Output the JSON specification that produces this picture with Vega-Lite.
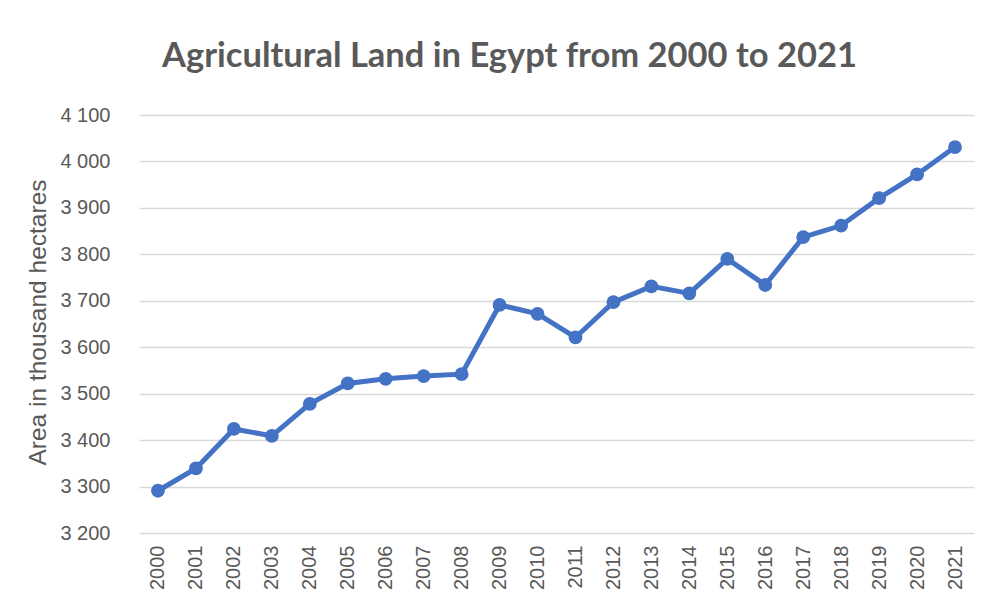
{
  "$schema": "https://vega.github.io/schema/vega-lite/v6.json",
  "autosize": {"type": "none"},
  "width": 835,
  "height": 418,
  "padding": {"left": 139, "top": 115, "right": 19, "bottom": 79},
  "background": "white",
  "title": {
    "text": "Agricultural Land in Egypt from 2000 to 2021",
    "font": "Lato",
    "fontSize": 34.5,
    "fontWeight": "bold",
    "color": "#595959",
    "anchor": "middle",
    "dx": -47,
    "offset": 31
  },
  "data": {
    "values": [
      {"year": "2000", "area": 3291},
      {"year": "2001", "area": 3339},
      {"year": "2002", "area": 3424},
      {"year": "2003", "area": 3409},
      {"year": "2004", "area": 3478},
      {"year": "2005", "area": 3522},
      {"year": "2006", "area": 3532},
      {"year": "2007", "area": 3538},
      {"year": "2008", "area": 3542},
      {"year": "2009", "area": 3691},
      {"year": "2010", "area": 3672},
      {"year": "2011", "area": 3621},
      {"year": "2012", "area": 3697},
      {"year": "2013", "area": 3731},
      {"year": "2014", "area": 3716},
      {"year": "2015", "area": 3790},
      {"year": "2016", "area": 3734},
      {"year": "2017", "area": 3837},
      {"year": "2018", "area": 3862},
      {"year": "2019", "area": 3921},
      {"year": "2020", "area": 3972},
      {"year": "2021", "area": 4031}
    ]
  },
  "mark": {
    "type": "line",
    "color": "#4472C4",
    "strokeWidth": 5,
    "point": {"filled": true, "size": 190, "color": "#4472C4", "opacity": 1}
  },
  "encoding": {
    "x": {
      "field": "year",
      "type": "ordinal",
      "scale": {"type": "point", "padding": 0.5},
      "axis": {
        "title": null,
        "labelAngle": -90,
        "labelAlign": "right",
        "labelBaseline": "middle",
        "labelFont": "Liberation Sans",
        "labelFontSize": 20,
        "labelColor": "#595959",
        "labelPadding": 12,
        "ticks": false,
        "domain": false,
        "grid": false
      }
    },
    "y": {
      "field": "area",
      "type": "quantitative",
      "scale": {"domain": [3200, 4100], "nice": false, "zero": false},
      "axis": {
        "values": [3200, 3300, 3400, 3500, 3600, 3700, 3800, 3900, 4000, 4100],
        "labelExpr": "replace(format(datum.value, ','), ',', ' ')",
        "labelFont": "Liberation Sans",
        "labelFontSize": 20,
        "labelColor": "#595959",
        "labelPadding": 29,
        "ticks": false,
        "domain": false,
        "grid": true,
        "gridColor": "#d9d9d9",
        "gridWidth": 1.3,
        "title": "Area in thousand hectares",
        "titleFont": "Liberation Sans",
        "titleFontSize": 24.5,
        "titleFontWeight": "normal",
        "titleColor": "#595959",
        "titleAngle": -90,
        "titleX": -101,
        "titleY": 207,
        "titleAlign": "center",
        "titleBaseline": "middle"
      }
    }
  },
  "config": {"view": {"stroke": null}}
}
